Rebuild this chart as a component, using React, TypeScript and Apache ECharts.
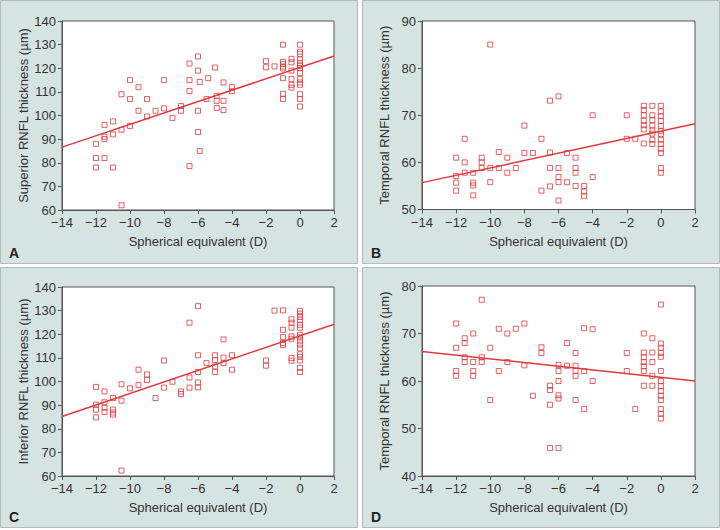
import React, { useEffect, useRef } from "react";
import * as echarts from "echarts";

// Panel A: Superior RNFL thickness vs spherical equivalent
const superiorPts: [number, number][] = [
  [-12, 88], [-12, 82], [-12, 78], [-11.5, 96], [-11.5, 91], [-11.5, 90], [-11.5, 82],
  [-11, 97.5], [-11, 92], [-11, 78], [-10.5, 109], [-10.5, 94], [-10.5, 62],
  [-10, 115], [-10, 107], [-10, 95.6], [-9.5, 112], [-9.5, 102], [-9, 107], [-9, 99.6],
  [-8.5, 102], [-8, 115], [-8, 103], [-7.5, 99], [-7, 104], [-7, 102],
  [-6.5, 122], [-6.5, 115], [-6.5, 110.4], [-6.5, 78.6],
  [-6, 125], [-6, 119], [-5.9, 114.2], [-6, 102], [-6, 93], [-5.9, 85],
  [-5.5, 107], [-5.4, 115.8], [-5, 120.3], [-4.9, 108.3], [-4.9, 106.2], [-4.9, 103.2],
  [-4.5, 114], [-4.5, 106.2], [-4.5, 102.3], [-4, 112], [-4, 110.3],
  [-2, 123], [-2, 120.4], [-1.5, 120.8],
  [-1, 130], [-1, 122.7], [-1, 121.7], [-1, 120.7], [-1, 119.9], [-1, 115.8], [-1, 109.2], [-1, 107],
  [-0.5, 124], [-0.5, 122.5], [-0.5, 119], [-0.5, 115.5], [-0.5, 113], [-0.5, 111.8],
  [0, 130], [0, 127], [0, 126], [0, 123.7], [0, 122.3], [0, 121], [0, 120], [0, 118],
  [0, 115.4], [0, 114], [0, 113], [0, 109], [0, 107], [0, 103.8],
];
const superiorFit: [number, number][] = [[-14, 86.6], [2, 125.2]];

// Panel B: Temporal RNFL thickness
const temporalBPts: [number, number][] = [
  [-12, 54], [-12, 55.7], [-12, 57.1], [-12, 61], [-11.5, 65], [-11.5, 60], [-11.5, 57.8],
  [-11, 57.8], [-11, 55.7], [-11, 55.1], [-11, 53], [-10.5, 61], [-10.5, 60], [-10.5, 58.8],
  [-10, 85], [-10, 58.8], [-10, 55.8], [-9.5, 62.2], [-9.5, 58.8], [-9, 61], [-9, 57.8],
  [-8.5, 58.8], [-8, 67.8], [-8, 62], [-7.5, 62], [-7, 65], [-7, 54],
  [-6.5, 73.1], [-6.5, 62.1], [-6.5, 58.8], [-6.5, 54.9],
  [-6, 74], [-6, 58.8], [-6, 56.9], [-6, 55.8], [-6, 51.9],
  [-5.5, 62], [-5.5, 55.8], [-5, 61], [-5, 58.8], [-5, 57.8], [-5, 55],
  [-4.5, 55], [-4.5, 53.8], [-4.5, 52.9], [-4, 70], [-4, 56.9],
  [-2, 70], [-2, 65], [-1.5, 65],
  [-1, 72], [-1, 71.1], [-1, 70], [-1, 68.8], [-1, 67.9], [-1, 67], [-1, 64],
  [-0.5, 72], [-0.5, 70], [-0.5, 69], [-0.5, 67.8], [-0.5, 66.8], [-0.5, 66.1], [-0.5, 64.8], [-0.5, 63.9],
  [0, 72], [0, 70.8], [0, 69.8], [0, 68.8], [0, 67.7], [0, 66.7], [0, 66], [0, 64.8],
  [0, 63.9], [0, 62.9], [0, 62], [0, 58.8], [0, 57.8],
];
const temporalBFit: [number, number][] = [[-14, 55.7], [2, 68.2]];

// Panel C: Inferior RNFL thickness
const inferiorPts: [number, number][] = [
  [-12, 97.7], [-12, 90.2], [-12, 88.1], [-12, 84.8], [-11.5, 95.8], [-11.5, 91.2], [-11.5, 88.9], [-11.5, 87.1],
  [-11, 93], [-11, 88.1], [-11, 86.9], [-11, 86], [-10.5, 98.8], [-10.5, 91.9], [-10.5, 62.3],
  [-10, 97.1], [-9.5, 105], [-9.5, 98.5], [-9, 103], [-9, 100.6], [-8.5, 93],
  [-8, 108.9], [-8, 97.4], [-7.5, 99.9], [-7, 95.8], [-7, 94.7],
  [-6.5, 124.9], [-6.5, 101.7], [-6.5, 97.4],
  [-6, 131.9], [-6, 111.1], [-6, 104], [-6, 99.6], [-6, 97.5],
  [-5.5, 107.8], [-5, 111.1], [-5, 109.1], [-5, 106.4], [-5, 104],
  [-4.5, 117.8], [-4.5, 110.1], [-4.5, 107.8], [-4, 111.1], [-4, 105],
  [-2, 108.9], [-2, 106.7], [-1.5, 130],
  [-1, 130.1], [-1, 121.9], [-1, 118.8], [-1, 116.3], [-1, 115.4],
  [-0.5, 126.3], [-0.5, 124.9], [-0.5, 122.8], [-0.5, 119.1], [-0.5, 118.1], [-0.5, 109.9], [-0.5, 108.8],
  [0, 129.8], [0, 128.7], [0, 127.3], [0, 125.9], [0, 124], [0, 122.8], [0, 119.8], [0, 118.7],
  [0, 117], [0, 115.6], [0, 114], [0, 111.5], [0, 110.4], [0, 108.9], [0, 105.8], [0, 104],
];
const inferiorFit: [number, number][] = [[-14, 85.2], [2, 124.2]];

// Panel D: Temporal RNFL thickness
const temporalDPts: [number, number][] = [
  [-12, 72.1], [-12, 67], [-12, 62.1], [-12, 61.1], [-11.5, 69], [-11.5, 68], [-11.5, 65], [-11.5, 64],
  [-11, 70], [-11, 64], [-11, 62.1], [-11, 61.1], [-10.5, 77.1], [-10.5, 65], [-10.5, 64],
  [-10, 67], [-10, 56], [-9.5, 71], [-9.5, 62.1], [-9, 70], [-9, 64], [-8.5, 71],
  [-8, 72.1], [-8, 63.3], [-7.5, 56.9], [-7, 67.1], [-7, 65.9],
  [-6.5, 59], [-6.5, 58.1], [-6.5, 55], [-6.5, 45.9],
  [-6, 63.4], [-6, 62.1], [-6, 60], [-6, 57], [-6, 56.3], [-6, 45.9],
  [-5.5, 68], [-5.5, 63.2], [-5, 65.9], [-5, 63.2], [-5, 62.1], [-5, 61.1], [-5, 56],
  [-4.5, 71.1], [-4.5, 62.1], [-4.5, 54.1], [-4, 70.9], [-4, 60],
  [-2, 65.9], [-2, 62.1], [-1.5, 54.1],
  [-1, 70], [-1, 66], [-1, 65], [-1, 64], [-1, 63.1], [-1, 62.1], [-1, 59],
  [-0.5, 69], [-0.5, 66], [-0.5, 64], [-0.5, 61.1], [-0.5, 59],
  [0, 76.1], [0, 67.9], [0, 67], [0, 65.9], [0, 65.1], [0, 62.1], [0, 60], [0, 58.9],
  [0, 57.9], [0, 56.9], [0, 56], [0, 54.1], [0, 53.1], [0, 52.1],
];
const temporalDFit: [number, number][] = [[-14, 66.2], [2, 60]];

const xTicks = { min: -14, max: 2, interval: 2 };
const yRanges: [number, number][] = [[60, 140], [50, 90], [60, 140], [40, 80]];
const yNames = [
  "Superior RNFL thickness (\u00b5m)",
  "Temporal RNFL thickness (\u00b5m)",
  "Inferior RNFL thickness (\u00b5m)",
  "Temporal RNFL thickness (\u00b5m)",
];
const xName = "Spherical equivalent (D)";
const panelLetters = ["A", "B", "C", "D"];

const RED = "#e0393c";
const TEXT = "#333333";
const AXIS = "#555555";
const PANEL_BG = "#d6e4e1";
const PANEL_BORDER = "#b3bcba";
const FONT = "Liberation Sans, Arial, sans-serif";

export default function App() {
  const ref = useRef<HTMLDivElement>(null);
  useEffect(() => {
    document.body.style.margin = "0";
    if (!ref.current) return;
    const chart = echarts.init(ref.current, null, { renderer: "svg" });

    const panels = [
      { x: 0, y: 0, w: 357, h: 263 },
      { x: 362, y: 0, w: 357, h: 263 },
      { x: 0, y: 267, w: 357, h: 260 },
      { x: 362, y: 267, w: 357, h: 260 },
    ];
    const grids = [
      { left: 62, top: 21, width: 272, height: 189 },
      { left: 422, top: 21, width: 273, height: 188.5 },
      { left: 62, top: 287, width: 272, height: 189 },
      { left: 422, top: 286, width: 273, height: 190 },
    ];
    const pts = [superiorPts, temporalBPts, inferiorPts, temporalDPts];
    const fits = [superiorFit, temporalBFit, inferiorFit, temporalDFit];

    const fmt = (v: number) => String(v).replace("-", "\u2212");

    const option: any = {
      animation: false,
      backgroundColor: "#ffffff",
      textStyle: { fontFamily: FONT },
      graphic: [
        ...panels.map((p) => ({
          type: "rect",
          shape: { x: p.x + 0.5, y: p.y + 0.5, width: p.w, height: p.h },
          style: { fill: PANEL_BG, stroke: PANEL_BORDER, lineWidth: 1 },
          z: -10,
          silent: true,
        })),
        ...panels.map((p, i) => ({
          type: "text",
          x: p.x + 9,
          y: p.y + p.h - 17,
          style: {
            text: panelLetters[i],
            fill: "#222222",
            font: `bold 14px ${FONT}`,
          },
          z: 10,
          silent: true,
        })),
      ],
      grid: grids.map((g) => ({
        ...g,
        show: true,
        backgroundColor: "#ffffff",
        borderColor: AXIS,
        borderWidth: 1,
        containLabel: false,
      })),
      xAxis: grids.map((_, i) => ({
        type: "value",
        gridIndex: i,
        min: xTicks.min,
        max: xTicks.max,
        interval: xTicks.interval,
        name: xName,
        nameLocation: "middle",
        nameGap: 25,
        nameTextStyle: { color: TEXT, fontSize: 13, fontFamily: FONT },
        axisLine: { show: true, onZero: false, lineStyle: { color: AXIS, width: 1 } },
        axisTick: { show: true, inside: false, length: 4, lineStyle: { color: AXIS } },
        axisLabel: {
          color: TEXT,
          fontSize: 13,
          margin: 6,
          fontFamily: FONT,
          formatter: fmt,
        },
        splitLine: { show: false },
      })),
      yAxis: grids.map((_, i) => ({
        type: "value",
        gridIndex: i,
        min: yRanges[i][0],
        max: yRanges[i][1],
        interval: 10,
        name: yNames[i],
        nameLocation: "middle",
        nameGap: 31,
        nameRotate: 90,
        nameTextStyle: { color: TEXT, fontSize: 13, fontFamily: FONT },
        axisLine: { show: true, onZero: false, lineStyle: { color: AXIS, width: 1 } },
        axisTick: { show: true, inside: false, length: 4, lineStyle: { color: AXIS } },
        axisLabel: { color: TEXT, fontSize: 13, margin: 6, fontFamily: FONT },
        splitLine: { show: false },
      })),
      series: [
        ...pts.map((d, i) => ({
          type: "scatter",
          xAxisIndex: i,
          yAxisIndex: i,
          data: d,
          symbol: "rect",
          symbolSize: 5,
          itemStyle: { color: "rgba(255,255,255,0)", borderColor: RED, borderWidth: 1 },
          z: 3,
        })),
        ...fits.map((d, i) => ({
          type: "line",
          xAxisIndex: i,
          yAxisIndex: i,
          data: d,
          showSymbol: false,
          symbol: "none",
          lineStyle: { color: RED, width: 1.5 },
          z: 2,
        })),
      ],
    };
    chart.setOption(option);
    return () => chart.dispose();
  }, []);
  return <div ref={ref} style={{ width: 720, height: 530 }} />;
}
